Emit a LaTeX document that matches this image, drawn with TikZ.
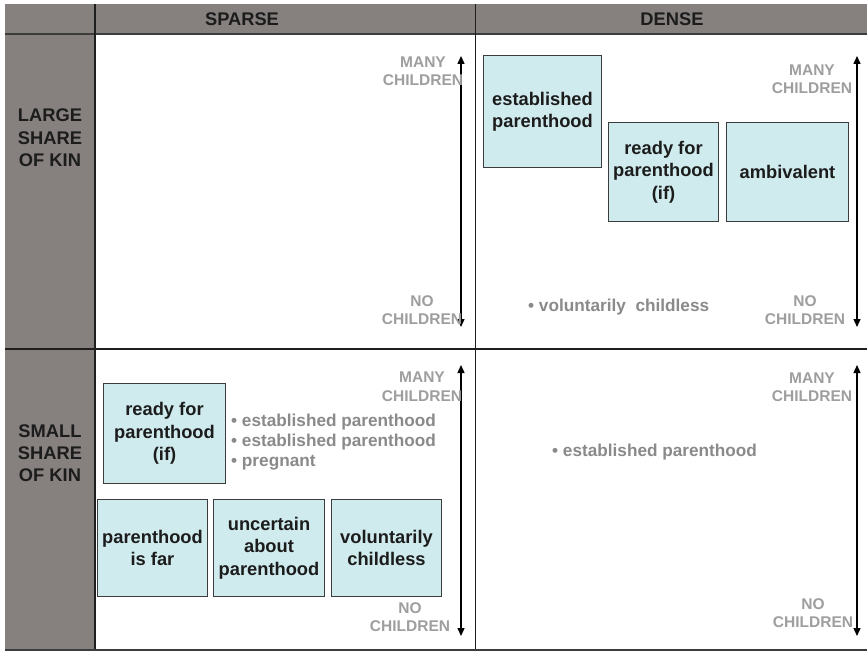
\documentclass[tikz,border=0pt]{standalone}
\usepackage{fontspec}
\setmainfont{Liberation Sans}
\usetikzlibrary{arrows.meta}
\definecolor{hdrgray}{RGB}{134,128,127}
\definecolor{boxcyan}{RGB}{208,235,238}
\definecolor{lblgray}{RGB}{158,158,158}
\definecolor{bulgray}{RGB}{138,138,138}
\definecolor{inkdark}{RGB}{28,28,28}
\definecolor{rulegray}{RGB}{60,60,60}

\begin{document}
\begin{tikzpicture}[x=1bp,y=-1bp,
  hdr/.style={font=\fontsize{18.3bp}{22.3bp}\selectfont\bfseries, text=inkdark, align=center, inner sep=0pt},
  catbox/.style={draw=rulegray, line width=1bp, fill=boxcyan, anchor=north west,
    font=\fontsize{18.3bp}{22.3bp}\selectfont\bfseries, text=inkdark, align=center, inner sep=0pt},
  axislbl/.style={font=\fontsize{15.5bp}{18.5bp}\selectfont\bfseries, text=lblgray, align=center, inner sep=0pt},
  bullet/.style={font=\fontsize{17.2bp}{20bp}\selectfont\bfseries, text=bulgray, align=left, inner sep=0pt, anchor=west},
  gridline/.style={line width=1.4bp, draw=black!88},
  hdrline/.style={line width=2bp, draw=rulegray},
  scale arrow/.style={line width=1.4bp, draw=black, {Triangle[length=8bp,width=7bp]}-{Triangle[length=8bp,width=7bp]}}
]
% canvas
\fill[white] (0,0) rectangle (867,651);
\useasboundingbox (0,0) rectangle (867,651);

% gray header row and header column
\fill[hdrgray] (5,4) rectangle (867,34);
\fill[hdrgray] (5,4) rectangle (94,650);

% table rules
\draw[hdrline] (5,34) -- (867,34);
\draw[gridline] (95,4) -- (95,650);
\draw[gridline] (475.5,4) -- (475.5,650);
\draw[gridline] (5,349) -- (867,349);
\draw[hdrline] (5,649.5) -- (867,649.5);

% header labels
\node[hdr] (hsparse) at (242,19.5) {SPARSE};
\node[hdr] (hdense) at (672,19.5) {DENSE};
\node[hdr] (hlarge) at (50,138) {LARGE\\SHARE\\OF KIN};
\node[hdr] (hsmall) at (50,453) {SMALL\\SHARE\\OF KIN};

% number-of-children scales
\coordinate (slTop) at (461,56);
\coordinate (slBot) at (461,327);
\coordinate (dlTop) at (857,56);
\coordinate (dlBot) at (857,327);
\coordinate (ssTop) at (461,365);
\coordinate (ssBot) at (461,636);
\coordinate (dsTop) at (857,365);
\coordinate (dsBot) at (857,636);
\draw[scale arrow] (slTop) -- (slBot);
\draw[scale arrow] (dlTop) -- (dlBot);
\draw[scale arrow] (ssTop) -- (ssBot);
\draw[scale arrow] (dsTop) -- (dsBot);

\node[axislbl] (slMany) at (423,71) {MANY\\CHILDREN};
\node[axislbl] (slNo) at (422,310) {NO\\CHILDREN};
\node[axislbl] (dlMany) at (812,79) {MANY\\CHILDREN};
\node[axislbl] (dlNo) at (805,310) {NO\\CHILDREN};
\node[axislbl] (ssMany) at (422,386.5) {MANY\\CHILDREN};
\node[axislbl] (ssNo) at (410,617) {NO\\CHILDREN};
\node[axislbl] (dsMany) at (812,387) {MANY\\CHILDREN};
\node[axislbl] (dsNo) at (813,613) {NO\\CHILDREN};

% categories: dense network, large share of kin
\node[catbox, minimum width=118bp, minimum height=112bp] (dlEst) at (483,55) {established\\parenthood};
\node[catbox, minimum width=110bp, minimum height=99bp] (dlReady) at (608,122) {ready for\\parenthood\\(if)};
\node[catbox, minimum width=122bp, minimum height=99bp] (dlAmb) at (726,122) {ambivalent};
\node[bullet] (dlVol) at (528,307) {\textbullet\ voluntarily\ \ childless};

% categories: sparse network, small share of kin
\node[catbox, minimum width=122bp, minimum height=100bp] (ssReady) at (103,383) {ready for\\parenthood\\(if)};
\node[bullet] (ssList) at (231,442) {\textbullet\ established parenthood\\\textbullet\ established parenthood\\\textbullet\ pregnant};
\node[catbox, minimum width=110bp, minimum height=97bp] (ssFar) at (97,499) {parenthood\\is far};
\node[catbox, minimum width=111bp, minimum height=97bp] (ssUnc) at (213,499) {uncertain\\about\\parenthood};
\node[catbox, minimum width=110bp, minimum height=97bp] (ssVol) at (331,499) {voluntarily\\childless};

% dense network, small share of kin
\node[bullet] (dsEst) at (552,452) {\textbullet\ established parenthood};
\end{tikzpicture}
\end{document}
